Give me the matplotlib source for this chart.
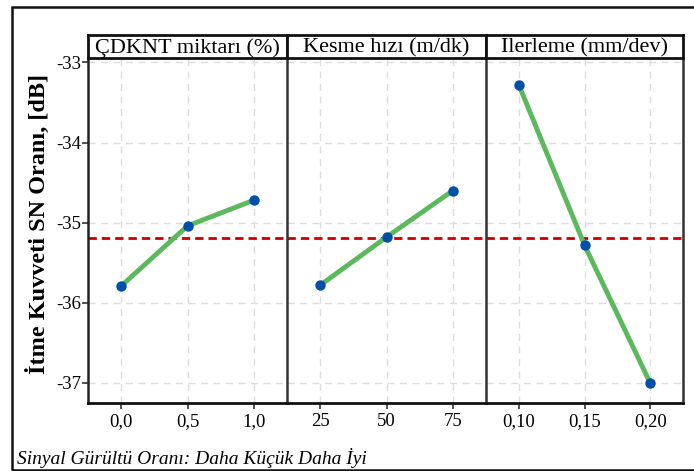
import matplotlib
matplotlib.use("Agg")
import matplotlib.pyplot as plt
from matplotlib.patches import Rectangle

plt.rcParams['font.family'] = ['Liberation Serif', 'DejaVu Serif']

# Data
panel_titles = ["ÇDKNT miktarı (%)", "Kesme hızı (m/dk)", "Ilerleme (mm/dev)"]
levels = [[0.0, 0.5, 1.0], [25, 50, 75], [0.10, 0.15, 0.20]]
tick_labels = [["0,0", "0,5", "1,0"], ["25", "50", "75"], ["0,10", "0,15", "0,20"]]
sn_values = [[-35.79, -35.04, -34.72], [-35.78, -35.18, -34.60], [-33.28, -35.28, -37.00]]
mean_sn = -35.19
y_ticks = [-33, -34, -35, -36, -37]
y_tick_labels = ["-33", "-34", "-35", "-36", "-37"]
xlims = [(-0.25, 1.25), (12.5, 87.5), (0.075, 0.225)]
ylabel = "İtme Kuvveti SN Oranı, [dB]"
caption = "Sinyal Gürültü Oranı: Daha Küçük Daha İyi"

W, H = 694, 471
fig = plt.figure(figsize=(W / 100, H / 100), dpi=100)

def fx(px):
    return px / W

def fy(py):
    return 1 - py / H

# outer frame
fig.patches.append(Rectangle((fx(12), fy(470)), fx(694 + 5) - fx(12), fy(7) - fy(470),
                             transform=fig.transFigure, fill=False, edgecolor='#111111',
                             linewidth=1.8, zorder=0))

edges = [88, 287, 486, 683]
top_px, bot_px = 58, 403
strip_top = 35

for i in range(3):
    l, r = edges[i], edges[i + 1]
    ax = fig.add_axes([fx(l), fy(bot_px), fx(r) - fx(l), fy(top_px) - fy(bot_px)])
    ax.set_xlim(*xlims[i])
    ax.set_ylim(-37.25, -32.945)
    ax.set_xticks(levels[i])
    ax.set_xticklabels(tick_labels[i], fontsize=13.5)
    ax.set_yticks(y_ticks)
    if i == 0:
        ax.set_yticklabels(y_tick_labels, fontsize=13.5)
        ax.tick_params(axis='y', length=4, width=1.2, color='#333333', pad=1)
    else:
        ax.tick_params(axis='y', length=0, labelleft=False)
    ax.tick_params(axis='x', length=4, width=1.2, color='#333333', pad=3)
    ax.grid(True, color='#dddddd', linestyle=(0, (5, 4)), linewidth=1.0)
    ax.set_axisbelow(True)
    ax.axhline(mean_sn, color='#cc0000', linestyle=(0, (3, 1.8)), linewidth=2.0, zorder=2)
    ax.plot(levels[i], sn_values[i], color='#5cb85c', linewidth=3.5, zorder=3,
            solid_capstyle='butt')
    ax.plot(levels[i], sn_values[i], linestyle='none', marker='o', markersize=7.5,
            color='#0050a8', markeredgewidth=0, zorder=4)
    for s in ['top', 'right', 'left', 'bottom']:
        ax.spines[s].set_visible(False)
    ax.spines['left'].set_visible(True)
    ax.spines['left'].set_color('#333333' if i > 0 else '#222222')
    ax.spines['left'].set_linewidth(1.8)
    ax.spines['bottom'].set_visible(True)
    ax.spines['bottom'].set_color('#111111')
    ax.spines['bottom'].set_linewidth(2.0)
    if i == 2:
        ax.spines['right'].set_visible(True)
        ax.spines['right'].set_color('#333333')
        ax.spines['right'].set_linewidth(1.8)

    # strip
    sx = fig.add_axes([fx(l), fy(top_px), fx(r) - fx(l), fy(strip_top) - fy(top_px)])
    sx.set_xticks([])
    sx.set_yticks([])
    sx.set_facecolor('white')
    for s in sx.spines.values():
        s.set_color('#111111')
        s.set_linewidth(2.0)
    sx.text(0.5, 0.45, panel_titles[i], ha='center', va='center', fontsize=16,
            transform=sx.transAxes)

fig.text(fx(38), fy(224), ylabel, rotation=90, ha='center', va='center',
         fontsize=17.5, fontweight='bold')
fig.text(fx(17), fy(458), caption, ha='left', va='center', fontsize=14, style='italic')

fig.savefig("out.png", dpi=100)
